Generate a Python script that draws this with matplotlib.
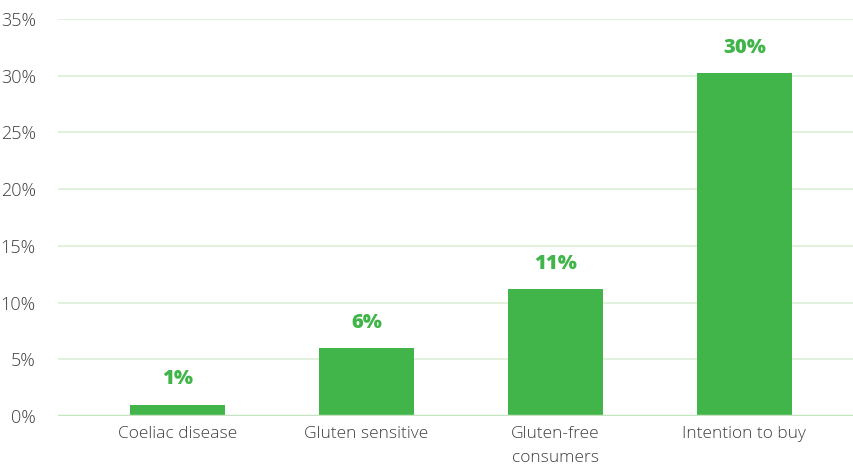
import matplotlib
matplotlib.use("Agg")
import matplotlib.pyplot as plt

categories = ["Coeliac disease", "Gluten sensitive", "Gluten-free\nconsumers", "Intention to buy"]
values = [1.0, 6.0, 11.2, 30.2]
labels = ["1%", "6%", "11%", "30%"]
yticks = [0, 5, 10, 15, 20, 25, 30, 35]
ytick_labels = ["0%", "5%", "10%", "15%", "20%", "25%", "30%", "35%"]

green = "#41b549"
plt.rcParams['font.family'] = ['Open Sans', 'DejaVu Sans']

fig = plt.figure(figsize=(8.54, 4.72), dpi=100)
ax = fig.add_axes([58/854, 1-416/472, 1-58/854, (416-19)/472])

x = list(range(len(categories)))
ax.bar(x, values, width=0.5, color=green, zorder=3)
for xi, v, lab in zip(x, values, labels):
    ax.annotate(lab, (xi, v), xytext=(0, 11), textcoords="offset points",
                ha="center", va="bottom", color=green, fontsize=14.5,
                fontweight="heavy")

ax.set_ylim(0, 35)
ax.set_xlim(-0.632, 3.58)
ax.set_yticks(yticks)
ax.set_yticklabels(ytick_labels, fontsize=13, color="#404040", fontweight="light")
ax.set_xticks(x)
ax.set_xticklabels(categories, fontsize=12.5, color="#404040", linespacing=1.65,
                   fontweight="light")
ax.tick_params(axis="both", length=0)
ax.tick_params(axis="y", pad=16)
ax.tick_params(axis="x", pad=7)
for yt in yticks[1:]:
    ax.axhline(yt, color="#dcefd8", lw=1.2, zorder=1)
ax.axhline(0, color="#c6e4c2", lw=2.5, zorder=4)
for s in ax.spines.values():
    s.set_visible(False)

fig.savefig("out.png", dpi=100)
